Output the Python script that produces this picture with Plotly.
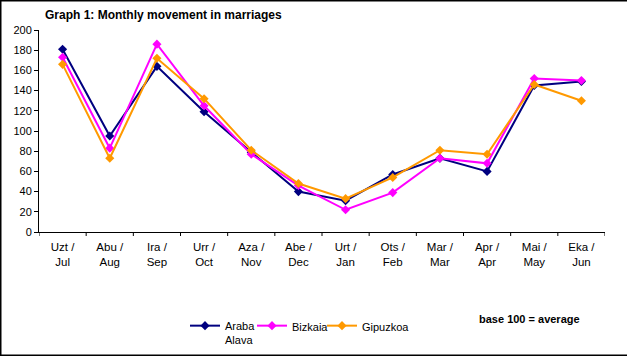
import plotly.graph_objects as go

categories = ["Uzt /<br>Jul", "Abu /<br>Aug", "Ira /<br>Sep", "Urr /<br>Oct", "Aza /<br>Nov", "Abe /<br>Dec",
              "Urt /<br>Jan", "Ots /<br>Feb", "Mar /<br>Mar", "Apr /<br>Apr", "Mai /<br>May", "Eka /<br>Jun"]
araba = [181, 95, 164, 119, 79, 40, 31, 57, 73, 60, 145, 149]
bizkaia = [173, 83, 186, 125, 77, 46, 22, 39, 73, 68, 152, 150]
gipuzkoa = [166, 73, 172, 132, 81, 48, 33, 54, 81, 77, 146, 130]
series_names = ["Araba<br>Alava", "Bizkaia", "Gipuzkoa"]
colors = ["#000080", "#FF00FF", "#FF9900"]
y_ticks = [0, 20, 40, 60, 80, 100, 120, 140, 160, 180, 200]

FONT = "Liberation Sans, Arial, sans-serif"
W, H = 627, 357
ML, MR, MT, MB = 39, 22, 30, 125
PW, PH = W - ML - MR, H - MT - MB

legend_widths = [22, 25, 45]

fig = go.Figure()
for name, vals, col, lw in zip(series_names, [araba, bizkaia, gipuzkoa], colors, legend_widths):
    fig.add_trace(go.Scatter(
        x=list(range(len(categories))), y=vals, name=name, mode="lines+markers",
        line=dict(color=col, width=2),
        marker=dict(symbol="diamond", size=7, color=col),
        legendwidth=lw,
    ))

def px(xp):
    return (xp - ML) / PW

def py(yp):
    return (H - MB - yp) / PH

fig.update_layout(
    width=W, height=H,
    margin=dict(l=ML, r=MR, t=MT, b=MB, autoexpand=False),
    paper_bgcolor="white", plot_bgcolor="white",
    font=dict(family=FONT, size=11, color="black"),
    showlegend=True,
    legend=dict(orientation="h", x=px(185), y=py(312), xanchor="left", yanchor="top",
                font=dict(size=11), itemwidth=30, valign="top",
                bgcolor="rgba(0,0,0,0)", tracegroupgap=0),
    xaxis=dict(
        tickmode="array", tickvals=list(range(len(categories))), ticktext=categories,
        range=[-0.5, 11.5], showgrid=False, zeroline=False,
        showline=True, linecolor="black", linewidth=1, automargin=False,
        ticks="", tickfont=dict(size=11.5), ticklabelstandoff=4,
    ),
    yaxis=dict(
        range=[0, 200], tickvals=y_ticks, showgrid=False, zeroline=False,
        showline=True, linecolor="black", linewidth=1, automargin=False,
        ticks="outside", ticklen=4, tickcolor="black", tickwidth=1,
        tickfont=dict(size=11),
    ),
    annotations=[
        dict(text="<b>Graph 1: Monthly movement in marriages</b>", xref="paper", yref="paper",
             x=px(43), y=py(6), xanchor="left", yanchor="top", showarrow=False,
             font=dict(size=12, family=FONT)),
        dict(text="<b>base 100 = average</b>", xref="paper", yref="paper",
             x=px(477), y=py(311), xanchor="left", yanchor="top", showarrow=False,
             font=dict(size=11, family=FONT)),
    ],
)

shapes = []
for i in range(len(categories) + 1):
    xb = i - 0.5
    shapes.append(dict(type="line", xref="x", yref="paper", x0=xb, x1=xb,
                       y0=0, y1=-4 / PH, line=dict(color="black", width=1)))
frame = dict(color="black", width=1.5)
shapes.append(dict(type="line", xref="paper", yref="paper", x0=px(0), x1=px(W), y0=py(0.75), y1=py(0.75), line=frame))
shapes.append(dict(type="line", xref="paper", yref="paper", x0=px(0.75), x1=px(0.75), y0=py(0), y1=py(356), line=frame))
shapes.append(dict(type="line", xref="paper", yref="paper", x0=px(0), x1=px(W), y0=py(355.25), y1=py(355.25), line=frame))
fig.update_layout(shapes=shapes)

fig.write_html("out.html", config={"displayModeBar": False},
               post_script="document.body.style.margin='0';document.body.style.overflow='hidden';")
